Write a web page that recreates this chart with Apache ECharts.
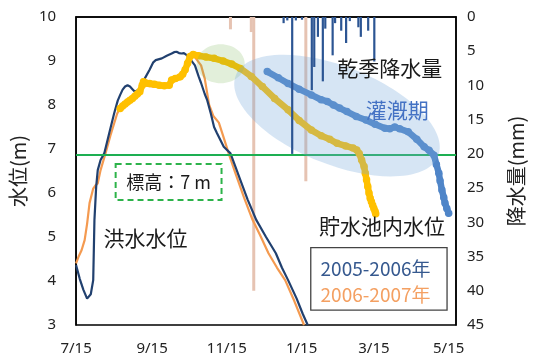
<!DOCTYPE html>
<html><head><meta charset="utf-8">
<script src="https://cdn.jsdelivr.net/npm/echarts@6/dist/echarts.min.js"></script>
<style>html,body{margin:0;padding:0;background:#fff}#c{width:534px;height:359px}</style>
</head><body><div id="c"></div>
<script>
// x values are days counted from 7/15
const tickDays = [0, 62, 123, 184, 243, 304];
const tickLabels = ['7/15', '9/15', '11/15', '1/15', '3/15', '5/15'];

// 洪水水位 2005-2006 (m)
const flood0506Days = [0,3,6,9,10.5,12,14,15,16.4,17.7,20,23,27,31,34,36,38,40,42,44,46,48,50,52,56,60,63,65,70,74,78,80,82,84,86,88,90,93,97,100,102,105,107,110,112.6,115,120.5,126,130,134,140,147,155,163,168,173,180,185,189];
const flood0506Level = [4.36,4.05,3.8,3.6,3.57,3.7,4.02,5.39,6.14,6.52,6.75,6.9,7.35,7.8,8.1,8.23,8.35,8.42,8.45,8.42,8.36,8.3,8.33,8.38,8.6,8.8,8.97,9.02,9.06,9.12,9.17,9.2,9.21,9.18,9.17,9.18,9.14,9.05,8.9,8.65,8.5,8.25,8.11,7.8,7.5,7.36,7.05,6.9,6.6,6.3,5.85,5.39,5.0,4.63,4.3,4.02,3.6,3.25,3.0];

// 洪水水位 2006-2007 (m)
const flood0607Days = [0,2,4.5,7,9,11,14,16,17.7,20,24,28,33.5,36,40,44,48,52,55,60,68,76,78,85,89,93,95.5,98,102,105,108.6,112,116.5,120,124.5,130,137,144,150,157,164,170.6,178,186];
const flood0607Level = [4.4,4.55,4.7,4.93,5.3,5.77,6.1,6.18,6.22,6.52,6.9,7.3,7.8,7.95,8.05,8.08,8.2,8.28,8.45,8.43,8.4,8.42,8.52,8.6,8.78,9.08,9.12,9.05,8.9,8.6,8.0,7.75,7.6,7.3,6.9,6.45,5.9,5.39,5.05,4.63,4.3,4.02,3.55,3.0];

// 貯水池内水位 2006-2007 (m)
const pond0607Days = [36,38,40,42,44,46,48,50,52,54,55,57,60,64,68,72,76,78,81,85,87,89,91,93,95.5,100,106,112.6,120,127,134,143,152,162,173,182,192,200,207,213,220,226,229,231,233,235,236,237,238,239,240,241,242,243,244,244.5];
const pond0607Level = [7.92,7.98,8.02,8.07,8.11,8.15,8.2,8.25,8.3,8.45,8.53,8.5,8.49,8.47,8.45,8.44,8.45,8.57,8.6,8.64,8.7,8.8,8.95,9.1,9.15,9.12,9.09,9.06,9.0,8.93,8.83,8.65,8.42,8.15,7.89,7.65,7.43,7.3,7.22,7.13,7.07,7.02,6.98,6.9,6.75,6.6,6.45,6.3,6.15,6.0,5.88,5.8,5.72,5.65,5.58,5.53];

// 貯水池内水位 2005-2006 (m)
const pond0506Days = [156,165,173,182,192,200,205,210,215,221,228.6,236.6,244,252,256,260,264,271,278,284,288,292,294,296,297,298.5,300,301,302.5,304];
const pond0506Level = [8.76,8.62,8.49,8.36,8.23,8.12,8.08,8.0,7.93,7.85,7.74,7.66,7.56,7.47,7.46,7.5,7.46,7.39,7.22,7.05,6.97,6.86,6.65,6.45,6.28,6.07,5.9,5.77,5.65,5.54];

// 乾季降水量 (mm)
const rain0506Days = [168,171,175,178,183,191,193,196,200,202,208,210,215,219,222,229,231,237,242];
const rain0506Mm = [0.9,0.5,20,0.5,0.4,10.7,7.3,2.9,9.4,1.7,5.6,0.9,2.0,3.8,0.6,1.5,2.9,2.0,6.5];
const rain0607Days = [127,144,146,188.5];
const rain0607Mm = [1.8,2.2,40,24];

const elevationLine = 6.88;

const pairs = (xs, ys) => xs.map((x, i) => [x, ys[i]]);
const FONT = '"Noto Sans", "Noto Sans CJK JP", sans-serif';
const JP = '"Noto Sans CJK JP", "Noto Sans", sans-serif';

const chart = echarts.init(document.getElementById('c'), null, {renderer: 'canvas'});
chart.setOption({
  animation: false,
  backgroundColor: '#fff',
  grid: {left: 71, right: 71.5, top: 17, bottom: 34, show: true, borderColor: '#000', borderWidth: 1.5, backgroundColor: 'transparent'},
  xAxis: {
    type: 'value', min: 0, max: 310,
    axisLine: {lineStyle: {color: '#000', width: 1.5}},
    axisTick: {show: false}, splitLine: {show: false},
    axisLabel: {customValues: tickDays, formatter: v => tickLabels[tickDays.indexOf(v)], color: '#222', fontSize: 15, fontFamily: FONT, margin: 16}
  },
  yAxis: [{
    type: 'value', min: 3, max: 10, interval: 1,
    name: '水位(m)', nameLocation: 'middle', nameGap: 35,
    nameTextStyle: {fontSize: 20, fontFamily: JP, color: '#222'},
    axisLine: {show: true, lineStyle: {color: '#000', width: 1.5}},
    axisTick: {show: false}, splitLine: {show: false},
    axisLabel: {color: '#222', fontSize: 15, fontFamily: FONT, margin: 20}
  }, {
    type: 'value', min: 0, max: 45, interval: 5, inverse: true, position: 'right',
    name: '降水量(mm)', nameLocation: 'middle', nameGap: 50, nameRotate: 90,
    nameTextStyle: {fontSize: 20, fontFamily: JP, color: '#222'},
    axisLine: {show: true, lineStyle: {color: '#000', width: 1.5}},
    axisTick: {show: false}, splitLine: {show: false},
    axisLabel: {color: '#222', fontSize: 15, fontFamily: FONT, margin: 11}
  }],
  series: [
    {type: 'bar', name: '降水量2006-2007', yAxisIndex: 1, data: pairs(rain0607Days, rain0607Mm), barWidth: 3, itemStyle: {color: '#E6C3B2'}, z: 3},
    {type: 'line', name: '洪水水位2005-2006', data: pairs(flood0506Days, flood0506Level), symbol: 'none', lineStyle: {color: '#21406F', width: 2.2}, z: 4,
     markLine: {silent: true, symbol: 'none', label: {show: false}, lineStyle: {color: '#1DAF52', width: 2, type: 'solid'}, data: [{yAxis: elevationLine}]}},
    {type: 'line', name: '洪水水位2006-2007', data: pairs(flood0607Days, flood0607Level), symbol: 'none', lineStyle: {color: '#F49A50', width: 2.2}, z: 3},
    {type: 'line', name: '貯水池2006-2007', data: pairs(pond0607Days, pond0607Level), symbol: 'circle', symbolSize: 7.5, showSymbol: true,
     itemStyle: {color: '#FFC000'}, lineStyle: {color: '#FFC000', width: 6.5, cap: 'round', join: 'round'}, z: 5},
    {type: 'line', name: '貯水池2005-2006', data: pairs(pond0506Days, pond0506Level), symbol: 'circle', symbolSize: 7.5, showSymbol: true,
     itemStyle: {color: '#4F85C8'}, lineStyle: {color: '#4F85C8', width: 6.5, cap: 'round', join: 'round'}, z: 5},
    {type: 'bar', name: '降水量2005-2006', yAxisIndex: 1, data: pairs(rain0506Days, rain0506Mm), barWidth: 2.2, itemStyle: {color: '#2C5593'}, z: 60}
  ]
});

const P = (d, v) => chart.convertToPixel({xAxisIndex: 0, yAxisIndex: 0}, [d, v]);
const g = [];
const gc = P(118, 8.94);
g.push({type: 'ellipse', x: gc[0], y: gc[1], shape: {cx: 0, cy: 0, rx: 24, ry: 19.5}, style: {fill: 'rgba(112,173,71,0.2)'}, z: 50});
const bc = P(213, 7.76);
g.push({type: 'ellipse', x: bc[0], y: bc[1], rotation: -0.38, shape: {cx: 0, cy: 0, rx: 109, ry: 49}, style: {fill: 'rgba(120,170,220,0.3)'}, z: 50});
const txt = (d, v, text, color, size, align) => {
  const p = P(d, v);
  g.push({type: 'text', x: p[0], y: p[1], z: 70, style: {text, fill: color, font: size + 'px ' + JP, textAlign: align || 'center', textVerticalAlign: 'middle'}});
};
txt(256, 8.84, '乾季降水量', '#1a1a1a', 21);
txt(262, 7.89, '灌漑期', '#4472C4', 21);
txt(249.7, 5.25, '貯水池内水位', '#1a1a1a', 21);
txt(56.6, 4.98, '洪水水位', '#1a1a1a', 21);
// dashed elevation box
const b1 = P(32.3, 6.66), b2 = P(118.7, 5.84);
g.push({type: 'rect', z: 70, shape: {x: b1[0], y: b1[1], width: b2[0] - b1[0], height: b2[1] - b1[1]}, style: {fill: '#fff', stroke: '#2DB34A', lineWidth: 2, lineDash: [6, 4]}});
txt(75.5, 6.25, '標高：7 m', '#1a1a1a', 18);
// legend box
const l1 = P(191.5, 4.76), l2 = P(302.7, 3.34);
g.push({type: 'rect', z: 70, shape: {x: l1[0], y: l1[1], width: l2[0] - l1[0], height: l2[1] - l1[1]}, style: {fill: '#fff', stroke: '#444', lineWidth: 1.3}});
txt(199.5, 4.28, '2005-2006年', '#36598F', 19, 'left');
txt(199.5, 3.69, '2006-2007年', '#F4A062', 19, 'left');
chart.setOption({graphic: {elements: g}});
</script>
</body></html>
